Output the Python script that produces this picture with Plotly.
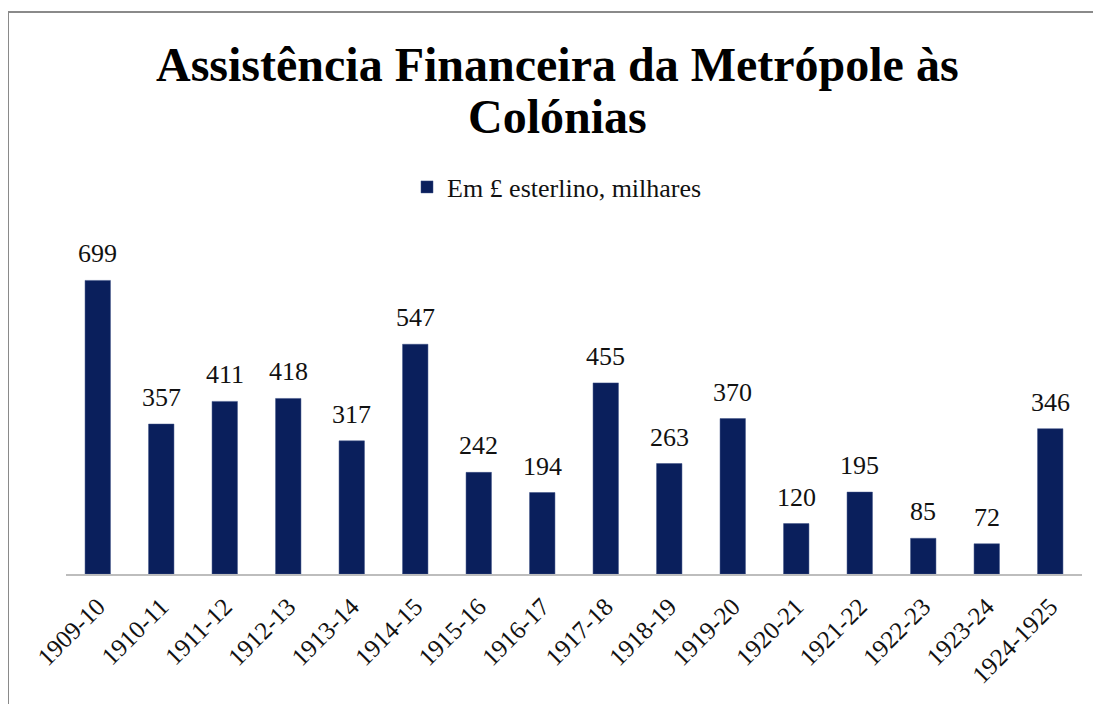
import plotly.graph_objects as go

categories = ["1909-10", "1910-11", "1911-12", "1912-13", "1913-14", "1914-15",
              "1915-16", "1916-17", "1917-18", "1918-19", "1919-20", "1920-21",
              "1921-22", "1922-23", "1923-24", "1924-1925"]
values = [699, 357, 411, 418, 317, 547, 242, 194, 455, 263, 370, 120, 195, 85, 72, 346]
series_name = "Em £ esterlino, milhares"
title_lines = ["Assistência Financeira da Metrópole às", "Colónias"]

W, H = 1101, 704
OFF = 8  # page body margin
L, R, T, B = 66 - OFF, W - (1082 - OFF), 238 - OFF, H - (574 - OFF)
ph = H - T - B
pw = W - L - R
AX = 574 - OFF  # axis line y in figure px


def py(y):  # reference-page y px -> paper fraction
    return (AX - (y - OFF)) / ph


def px(x):  # reference-page x px -> paper fraction
    return ((x - OFF) - L) / pw


serif = "Liberation Serif, Times New Roman, serif"

fig = go.Figure()
fig.add_trace(go.Bar(
    x=categories, y=values, name=series_name,
    marker=dict(color="#0A1F5C", line=dict(color="#3A4F85", width=0.5)),
    cliponaxis=False,
))

annotations = []
for c, v in zip(categories, values):
    annotations.append(dict(x=c, y=v, xref="x", yref="y", text=str(v), showarrow=False,
                            yanchor="bottom", yshift=10,
                            font=dict(family=serif, size=26, color="#111")))
for i, line in enumerate(title_lines):
    annotations.append(dict(x=px(557), xref="paper", y=py(64 + 53 * i), yref="paper",
                            text="<b>" + line + "</b>", showarrow=False,
                            xanchor="center", yanchor="middle",
                            font=dict(family=serif, size=48, color="#000")))

fig.update_layout(
    width=W, height=H,
    margin=dict(l=L, r=R, t=T, b=B, autoexpand=False),
    paper_bgcolor="white", plot_bgcolor="white",
    bargap=0.6,
    showlegend=True,
    legend=dict(orientation="h", x=px(557), xanchor="center",
                y=py(187), yanchor="middle",
                font=dict(family=serif, size=26, color="#111"),
                itemwidth=30),
    xaxis=dict(type="category", showline=True, linecolor="#BDBDBD", linewidth=2, ticks="",
               tickangle=-45, tickfont=dict(family=serif, size=25, color="#111"),
               ticklabelstandoff=6,
               showgrid=False, automargin=False),
    yaxis=dict(range=[0, 800], visible=False, showgrid=False, zeroline=False, automargin=False),
    annotations=annotations,
    shapes=[dict(type="rect", xref="paper", yref="paper",
                 x0=px(8), x1=1.2, y0=-0.6, y1=py(12),
                 line=dict(color="#8A8A8A", width=2), fillcolor="rgba(0,0,0,0)")],
)

fig.write_html("out.html")
